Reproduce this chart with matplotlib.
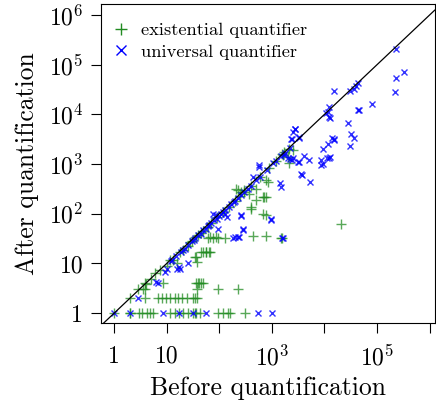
import numpy as np
import matplotlib
matplotlib.use('Agg')
import matplotlib.pyplot as plt
from matplotlib.ticker import FixedLocator, FixedFormatter

# existential quantifier: (before, after)
ex_x = [1, 2, 2, 3, 3.4, 4.2, 4.8, 5.6, 11.5, 14.3, 17, 20.5, 25.6, 31.7, 34, 36, 42.5, 94, 117, 146, 158, 304,
        2, 3.9, 6.9, 8, 9.9, 11.5, 14.3, 16.5, 19.2, 24.5, 31.7, 34, 37,
        2.9, 3.6, 3.9, 37, 94, 226,
        3.9, 8.5, 36, 39, 42, 45, 49,
        6, 7.4, 11.5, 17.8, 27.5, 36.8, 4, 5,
        15.4, 34, 37, 36, 45, 49, 55, 57, 63, 66,
        61, 66, 76, 88, 94, 126, 434, 780, 1500, 1570,
        20500, 670, 780, 405, 410,
        210, 300, 226, 262, 375, 490, 505, 720, 670, 780, 780, 830,
        1550, 1700, 2100, 2500, 2000, 2150, 1600,
        10, 13, 20, 25, 30, 40, 50, 70, 90, 120, 150, 200, 250, 300, 400, 600, 900, 1200, 45, 60]
ex_y = [1, 1, 1, 1, 1, 1, 1, 1, 1, 1, 1, 1, 1, 1, 1, 1, 1, 1, 1, 1, 1, 1,
        2, 2, 2, 2, 2, 2, 2, 2, 2, 2, 2, 2, 2,
        3, 3, 3, 3, 3, 3,
        4, 4, 4, 4, 4, 4, 4,
        6.3, 7.3, 11.7, 17.1, 27.2, 34, 3.9, 4.8,
        10, 13.6, 10.8, 13.6, 17, 17, 17, 17, 17, 17,
        33, 34, 33, 34, 33, 33, 35, 35, 33, 33,
        61, 100, 94, 127, 135,
        310, 300, 300, 275, 255, 320, 188, 218, 220, 220, 470, 440,
        1600, 1750, 2050, 1900, 1400, 1030, 1500,
        9, 12, 19, 23, 28, 37, 46, 65, 85, 110, 140, 180, 230, 270, 360, 550, 850, 1150, 42, 55]

# universal quantifier: (before, after)
un_x = [1, 2, 8.6, 17, 31.7, 55, 550, 1020,
        2.9, 6.9, 6.4, 9.2, 10, 12.4, 19, 25.5, 17.8, 15.4, 17,
        182, 226, 195, 240, 1570, 1600, 280, 282, 94, 260, 262, 960, 960, 76, 88, 126, 140,
        580, 580, 430, 1400, 1500, 3100, 1700, 2000, 2400, 2200, 2500,
        2800, 2700, 2300, 2400, 3300, 3300, 2500,
        5000, 4000, 3300, 3700, 5300, 3600,
        8600, 9200, 8600, 12000, 11000, 13000, 11500, 9200, 14000, 15000, 15000,
        12000, 11500, 12000, 12700, 10700,
        15000, 28000, 32000, 36000, 31000, 44000, 45000,
        44000, 40000, 36000, 30000, 79000, 220000, 230000, 320000, 230000,
        12, 15, 20, 22, 25, 30, 33, 35, 40, 45, 50, 55, 60, 65, 70, 80, 90, 100, 110, 120,
        130, 150, 170, 190, 200, 230, 260, 300, 350, 400, 500, 600, 800, 1050, 1200, 1500, 1800, 2200]
un_y = [1, 1, 1, 1, 1, 1, 1, 1,
        2, 4.1, 4.3, 6.8, 7.6, 12, 17, 10, 7.9, 7.9, 8.5,
        33, 34, 34, 34, 33, 32, 50, 48, 50, 94, 90, 74, 77, 100, 94, 100, 85,
        950, 880, 540, 410, 350, 1100, 1500, 1350, 1200, 1250, 1300,
        5000, 5200, 3200, 3200, 3300, 3500, 4500,
        1200, 1450, 1100, 600, 440, 630,
        1200, 1020, 950, 1350, 1300, 1400, 2500, 2000, 3300, 3000, 3200,
        14000, 11000, 8900, 8300, 10500,
        29000, 6700, 4000, 3400, 2300, 12000, 12500,
        42000, 37000, 33000, 30000, 16000, 28000, 53000, 72000, 210000,
        11, 14, 19, 20, 24, 28, 30, 33, 38, 40, 47, 50, 56, 60, 66, 75, 80, 92, 100, 110,
        118, 140, 155, 170, 185, 210, 240, 280, 320, 370, 470, 560, 750, 1030, 1150, 1450, 1700, 2100]

x_ticks = [1, 10, 1e2, 1e3, 1e4, 1e5, 1e6]
x_labels = ['1', '10', '', r'$10^3$', '', r'$10^5$', '']
y_ticks = [1, 10, 1e2, 1e3, 1e4, 1e5, 1e6]
y_labels = ['1', '10', r'$10^2$', r'$10^3$', r'$10^4$', r'$10^5$', r'$10^6$']

plt.rcParams['font.family'] = 'serif'
plt.rcParams['font.serif'] = ['cmr10', 'DejaVu Serif']
plt.rcParams['mathtext.fontset'] = 'cm'
plt.rcParams['axes.unicode_minus'] = False

fig = plt.figure(figsize=(4.36, 4.07), dpi=100)
ax = fig.add_axes([0.232, 0.206, 0.765, 0.784])

ax.plot(ex_x, ex_y, '+', color='#228B22', markersize=6.5, markeredgewidth=1.0, alpha=0.75,
        linestyle='none', label='existential quantifier')
ax.plot(un_x, un_y, 'x', color='#0000FF', markersize=4.8, markeredgewidth=1.0, alpha=0.8,
        linestyle='none', label='universal quantifier')
ax.axline((1, 1), (10, 10), color='black', linewidth=0.9)

ax.set_xscale('log')
ax.set_yscale('log')
ax.set_xlim(0.567, 1.25e6)
ax.set_ylim(0.63, 1.66e6)

ax.xaxis.set_major_locator(FixedLocator(x_ticks))
ax.xaxis.set_major_formatter(FixedFormatter(x_labels))
ax.yaxis.set_major_locator(FixedLocator(y_ticks))
ax.yaxis.set_major_formatter(FixedFormatter(y_labels))
ax.minorticks_off()
ax.tick_params(direction='out', length=7, width=0.8, labelsize=17, pad=6, top=False, right=False)
ax.tick_params(axis='x', pad=9)

ax.set_xlabel('Before quantification', fontsize=18.5, labelpad=4)
ax.set_ylabel('After quantification', fontsize=18.5, labelpad=7)

leg = ax.legend(loc='upper left', bbox_to_anchor=(0.0, 0.984), frameon=False, fontsize=13.3,
                handletextpad=0.75, borderaxespad=0.5, borderpad=0.2, handlelength=0.7,
                labelspacing=0.3, markerscale=1.4)
for h in leg.legend_handles:
    h.set_alpha(1)

plt.savefig('out.png', dpi=100)
